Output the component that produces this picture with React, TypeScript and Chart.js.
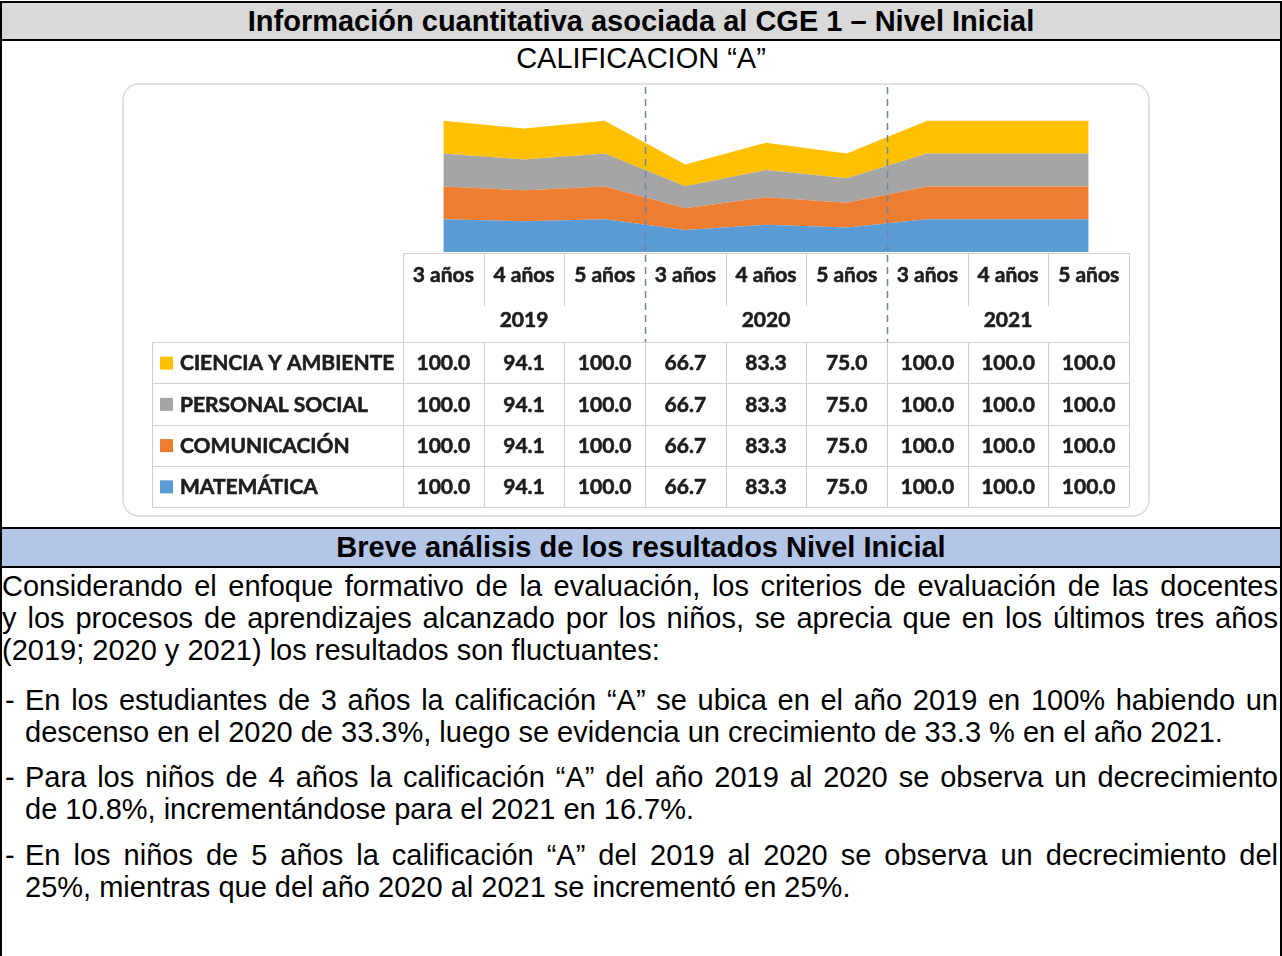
import React, { useEffect, useRef } from "react";
import { Chart, registerables } from "chart.js";

Chart.register(...registerables);

// ---------- data ----------
const ageLabels = ["3 años", "4 años", "5 años", "3 años", "4 años", "5 años", "3 años", "4 años", "5 años"];
const yearLabels = ["2019", "2020", "2021"];
const seriesNames = ["CIENCIA Y AMBIENTE", "PERSONAL SOCIAL", "COMUNICACIÓN", "MATEMÁTICA"];
const cienciaValues = [100.0, 94.1, 100.0, 66.7, 83.3, 75.0, 100.0, 100.0, 100.0];
const personalValues = [100.0, 94.1, 100.0, 66.7, 83.3, 75.0, 100.0, 100.0, 100.0];
const comunicacionValues = [100.0, 94.1, 100.0, 66.7, 83.3, 75.0, 100.0, 100.0, 100.0];
const matematicaValues = [100.0, 94.1, 100.0, 66.7, 83.3, 75.0, 100.0, 100.0, 100.0];
const seriesColors = ["#FFC000", "#A5A5A5", "#ED7D31", "#5B9BD5"];
const tableRows = [cienciaValues, personalValues, comunicacionValues, matematicaValues];

const TABLE_FONT = "Lato, 'Open Sans', sans-serif";

const drawBoldText = (ctx: CanvasRenderingContext2D, text: string, x: number, y: number) => {
  ctx.fillText(text, x, y);
  ctx.strokeText(text, x, y);
};

const dataTablePlugin = {
  id: "dataTable",
  beforeDraw(chart: any) {
    const { ctx, width, height } = chart;
    ctx.save();
    ctx.fillStyle = "#ffffff";
    ctx.fillRect(0, 0, width, height);
    ctx.strokeStyle = "#d9d9d9";
    ctx.lineWidth = 1.5;
    ctx.beginPath();
    (ctx as any).roundRect(1, 1, width - 2, height - 2, 16);
    ctx.stroke();
    ctx.restore();
  },
  afterDatasetsDraw(chart: any) {
    const { ctx, chartArea } = chart;
    const xs = chart.scales.x;
    const n = ageLabels.length;
    const colW = xs.getPixelForValue(1) - xs.getPixelForValue(0);
    const edge = (i: number) => xs.getPixelForValue(0) - colW / 2 + i * colW;
    const headTop = chartArea.bottom + 1;
    const ageRowH = 45;
    const yearRowH = 44;
    const yearBottom = headTop + ageRowH + yearRowH;
    const rowH = 41.25;
    const labelLeft = 30;
    const tableBottom = yearBottom + rowH * tableRows.length;
    const px = (v: number) => Math.round(v) + 0.5;

    ctx.save();
    ctx.strokeStyle = "#cfcfcf";
    ctx.lineWidth = 1;
    ctx.beginPath();
    ctx.moveTo(edge(0), px(headTop));
    ctx.lineTo(edge(n), px(headTop));
    ctx.stroke();
    for (let i = 0; i <= n; i++) {
      const isGroup = i % 3 === 0 && i !== 0 && i !== n;
      if (isGroup) continue;
      ctx.beginPath();
      ctx.moveTo(px(edge(i)), headTop);
      ctx.lineTo(px(edge(i)), i === 0 || i === n ? yearBottom : headTop + ageRowH + 8);
      ctx.stroke();
    }
    for (let r = 0; r <= tableRows.length; r++) {
      const y = px(yearBottom + r * rowH);
      ctx.beginPath();
      ctx.moveTo(labelLeft, y);
      ctx.lineTo(edge(n), y);
      ctx.stroke();
    }
    const vxs = [labelLeft];
    for (let i = 0; i <= n; i++) vxs.push(edge(i));
    vxs.forEach((vx) => {
      ctx.beginPath();
      ctx.moveTo(px(vx), yearBottom);
      ctx.lineTo(px(vx), tableBottom);
      ctx.stroke();
    });

    // group dashed separators
    ctx.strokeStyle = "#7085a6";
    ctx.lineWidth = 1.5;
    ctx.setLineDash([7, 5]);
    for (let g = 1; g < yearLabels.length; g++) {
      const gx = px(edge(g * 3));
      ctx.beginPath();
      ctx.moveTo(gx, chartArea.top - 1);
      ctx.lineTo(gx, yearBottom);
      ctx.stroke();
    }
    ctx.setLineDash([]);

    // texts
    ctx.fillStyle = "#1e1e1e";
    ctx.strokeStyle = "#1e1e1e";
    ctx.lineWidth = 0.6;
    ctx.textAlign = "center";
    ctx.textBaseline = "middle";
    ctx.font = `bold 21px ${TABLE_FONT}`;
    ageLabels.forEach((lab, i) => {
      drawBoldText(ctx, lab, xs.getPixelForValue(i), headTop + 22);
    });
    yearLabels.forEach((yr, g) => {
      drawBoldText(ctx, yr, xs.getPixelForValue(g * 3 + 1), headTop + ageRowH + 22);
    });

    tableRows.forEach((vals, r) => {
      const cy = yearBottom + r * rowH + rowH / 2 + 1;
      ctx.fillStyle = seriesColors[r];
      ctx.fillRect(labelLeft + 8, cy - 7, 13, 13);
      ctx.fillStyle = "#1e1e1e";
      ctx.textAlign = "left";
      drawBoldText(ctx, seriesNames[r], labelLeft + 28, cy);
      ctx.textAlign = "center";
      vals.forEach((v, i) => {
        drawBoldText(ctx, v.toFixed(1), xs.getPixelForValue(i), cy);
      });
    });
    ctx.restore();
  },
};

const baseFont = "'Liberation Sans', Arial, sans-serif";
const FS = 29;
const LH = 32;

type Line = { text: string; top: number; left: number; justify: boolean; dash?: boolean };

const bodyLines: Line[] = [
  { text: "Considerando el enfoque formativo de la evaluación, los criterios de evaluación de las docentes", top: 570, left: 2, justify: true },
  { text: "y los procesos de aprendizajes alcanzado por los niños, se aprecia que en los últimos tres años", top: 602, left: 2, justify: true },
  { text: "(2019; 2020 y 2021) los resultados son fluctuantes:", top: 634, left: 2, justify: false },
  { text: "En los estudiantes de 3 años la calificación “A” se ubica en el año 2019 en 100% habiendo un", top: 684, left: 25, justify: true, dash: true },
  { text: "descenso en el 2020 de 33.3%, luego se evidencia un crecimiento de 33.3 % en el año 2021.", top: 716, left: 25, justify: false },
  { text: "Para los niños de 4 años la calificación “A” del año 2019 al 2020 se observa un decrecimiento", top: 761, left: 25, justify: true, dash: true },
  { text: "de 10.8%, incrementándose para el 2021 en 16.7%.", top: 793, left: 25, justify: false },
  { text: "En los niños de 5 años la calificación “A” del 2019 al 2020 se observa un decrecimiento del", top: 839, left: 25, justify: true, dash: true },
  { text: "25%, mientras que del año 2020 al 2021 se incrementó en 25%.", top: 871, left: 25, justify: false },
];

export default function App() {
  const canvasRef = useRef<HTMLCanvasElement>(null);

  useEffect(() => {
    const datasets = [
      { label: seriesNames[3], data: matematicaValues, backgroundColor: seriesColors[3], borderColor: seriesColors[3], fill: "origin" },
      { label: seriesNames[2], data: comunicacionValues, backgroundColor: seriesColors[2], borderColor: seriesColors[2], fill: "-1" },
      { label: seriesNames[1], data: personalValues, backgroundColor: seriesColors[1], borderColor: seriesColors[1], fill: "-1" },
      { label: seriesNames[0], data: cienciaValues, backgroundColor: seriesColors[0], borderColor: seriesColors[0], fill: "-1" },
    ];
    const chart = new Chart(canvasRef.current as HTMLCanvasElement, {
      type: "line",
      data: { labels: ageLabels, datasets: datasets as any },
      options: {
        responsive: false,
        animation: false,
        layout: { padding: { left: 281, right: 21, top: 5, bottom: 265 } },
        plugins: { legend: { display: false }, tooltip: { enabled: false }, title: { display: false } },
        scales: {
          x: { display: false, offset: true },
          y: { display: false, stacked: true, min: 0, max: 500 },
        },
        elements: { point: { radius: 0 }, line: { tension: 0, borderWidth: 0 } },
      } as any,
      plugins: [dataTablePlugin as any],
    });
    return () => chart.destroy();
  }, []);

  return (
    <div
      style={{
        position: "absolute",
        left: 0,
        top: 0,
        width: 1282,
        height: 956,
        background: "#fff",
        overflow: "hidden",
        fontFamily: baseFont,
        color: "#000",
      }}
    >
      <div
        style={{
          position: "absolute",
          left: 0,
          top: 1,
          width: 1282,
          height: 36,
          background: "#d9d9d9",
          borderTop: "2px solid #000",
          borderBottom: "2px solid #000",
          fontWeight: "bold",
          fontSize: FS,
          lineHeight: "36px",
          textAlign: "center",
        }}
      >
        Información cuantitativa asociada al CGE 1 – Nivel Inicial
      </div>
      <div
        style={{
          position: "absolute",
          left: 0,
          top: 41,
          width: 1282,
          height: 34,
          fontSize: FS,
          lineHeight: "34px",
          textAlign: "center",
        }}
      >
        CALIFICACION “A”
      </div>

      <div style={{ position: "absolute", left: 122, top: 83, width: 1028, height: 434 }}>
        <canvas ref={canvasRef} width={1028} height={434} style={{ width: 1028, height: 434, display: "block" }} />
      </div>

      <div
        style={{
          position: "absolute",
          left: 0,
          top: 527,
          width: 1282,
          height: 37,
          background: "#b4c6e7",
          borderTop: "2px solid #000",
          borderBottom: "2px solid #000",
          fontWeight: "bold",
          fontSize: FS,
          lineHeight: "37px",
          textAlign: "center",
        }}
      >
        Breve análisis de los resultados Nivel Inicial
      </div>

      {bodyLines.map((ln, i) => (
        <React.Fragment key={i}>
          {ln.dash && (
            <div style={{ position: "absolute", left: 5, top: ln.top, fontSize: FS, lineHeight: `${LH}px` }}>-</div>
          )}
          <div
            style={{
              position: "absolute",
              left: ln.left,
              top: ln.top,
              width: 1278 - ln.left,
              fontSize: FS,
              lineHeight: `${LH}px`,
              textAlign: ln.justify ? "justify" : "left",
              textAlignLast: ln.justify ? "justify" : "left",
            } as any}
          >
            {ln.text}
          </div>
        </React.Fragment>
      ))}

      <div style={{ position: "absolute", left: 0, top: 1, width: 2, height: 955, background: "#000" }} />
      <div style={{ position: "absolute", left: 1280, top: 1, width: 2, height: 955, background: "#000" }} />
    </div>
  );
}
